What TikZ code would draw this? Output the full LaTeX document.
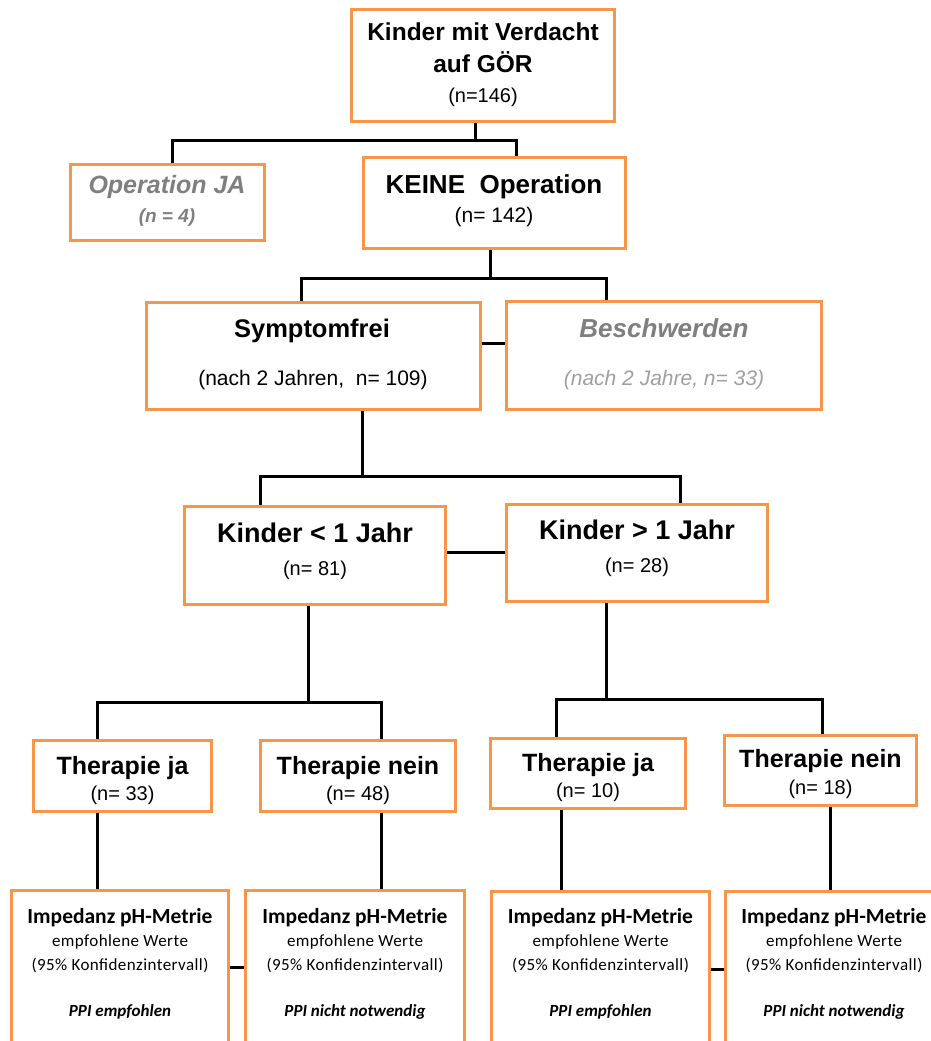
\documentclass[tikz,border=0pt]{standalone}
\usepackage{fontspec}
\setmainfont{Liberation Sans}
\newfontfamily\calfont{Carlito}
\newfontfamily\calfontsp[LetterSpace=2.5]{Carlito}
\definecolor{boxorange}{HTML}{F79646}
\definecolor{txtgrey}{HTML}{7F7F7F}
\definecolor{subgrey}{HTML}{A0A0A0}
\tikzset{
  obox/.style={draw=boxorange, line width=3pt, fill=white, inner sep=0pt, rectangle},
  conn/.style={draw=black, line width=3pt},
  tx/.style={anchor=base, inner sep=0pt},
}
\newcommand\mkbox[5]{\node[obox, minimum width={#4-#2-3}, minimum height={#5-#3-3}] (#1) at ({(#2+#4)/2},{(#3+#5)/2}) {};}
\newcommand\fs[1]{\fontsize{#1}{#1}\selectfont}
\begin{document}
\begin{tikzpicture}[x=1pt,y=-1pt]
\path[use as bounding box, clip] (0,0) rectangle (931,1041);
% boxes
\mkbox{top}{350}{8}{616}{123}
\mkbox{opja}{69}{163}{266}{242}
\mkbox{keine}{362}{156}{627}{250}
\mkbox{symf}{145}{301}{482}{411}
\mkbox{besch}{505}{300}{823}{411}
\mkbox{klein}{183}{505}{447}{606}
\mkbox{kgross}{505}{503}{769}{603}
\mkbox{thjaL}{32}{739}{213}{813}
\mkbox{thneinL}{259}{739}{457}{813}
\mkbox{thjaR}{489}{737}{687}{810}
\mkbox{thneinR}{723}{734}{918}{807}
\mkbox{impA}{10}{889}{230}{1070}
\mkbox{impB}{244}{889}{466}{1070}
\mkbox{impC}{490}{890}{711}{1070}
\mkbox{impD}{724}{890}{944}{1070}
% junction coordinates
\coordinate (a0) at (475,140); \coordinate (aL) at (172,140); \coordinate (aR) at (516,140);
\coordinate (b0) at (490,278); \coordinate (bL) at (301,278); \coordinate (bR) at (606,278);
\coordinate (c0) at (362,476); \coordinate (cL) at (260,476); \coordinate (cR) at (680,476);
\coordinate (d0) at (308,702); \coordinate (dL) at (97,702);  \coordinate (dR) at (381,702);
\coordinate (e0) at (606,699); \coordinate (eL) at (556,699); \coordinate (eR) at (822,699);
\coordinate (f1) at (561,850); \coordinate (f2) at (830,850);
\coordinate (s1) at (0,343); \coordinate (s2) at (0,552); \coordinate (s3) at (0,967); \coordinate (s4) at (0,969);
% connectors
\draw[conn] (top.south -| a0) -- (a0);
\draw[conn] (opja.north -| aL) |- (aR) -- (keine.north -| aR);
\draw[conn] (keine.south -| b0) -- (b0);
\draw[conn] (symf.north -| bL) |- (bR) -- (besch.north -| bR);
\draw[conn] (symf.south -| c0) -- (c0);
\draw[conn] (klein.north -| cL) |- (cR) -- (kgross.north -| cR);
\draw[conn] (klein.south -| d0) -- (d0);
\draw[conn] (thjaL.north -| dL) |- (dR) -- (thneinL.north -| dR);
\draw[conn] (kgross.south -| e0) -- (e0);
\draw[conn] (thjaR.north -| eL) |- (eR) -- (thneinR.north -| eR);
\draw[conn] (thjaL.south -| dL) -- (impA.north -| dL);
\draw[conn] (thneinL.south -| dR) -- (impB.north -| dR);
\draw[conn] (thjaR.south -| f1) -- (impC.north -| f1);
\draw[conn] (thneinR.south -| f2) -- (impD.north -| f2);
\draw[conn] (symf.east |- s1) -- (besch.west |- s1);
\draw[conn] (klein.east |- s2) -- (kgross.west |- s2);
\draw[conn] (impA.east |- s3) -- (impB.west |- s3);
\draw[conn] (impC.east |- s4) -- (impD.west |- s4);
% texts
\node[tx, font=\fs{24.5}\bfseries] (t1a) at (483,41) {Kinder mit Verdacht};
\node[tx, font=\fs{24.5}\bfseries] (t1b) at (483,72.5) {auf GÖR};
\node[tx, font=\fs{20}] (t1c) at (483,102) {(n=146)};
\node[tx, font=\fs{25}\bfseries\itshape, text=txtgrey] (t2a) at (167,193) {Operation JA};
\node[tx, font=\fs{19}\bfseries\itshape, text=txtgrey] (t2b) at (167,222) {(n = 4)};
\node[tx, font=\fs{26}\bfseries] (t3a) at (494,193) {KEINE\ \ Operation};
\node[tx, font=\fs{21}] (t3b) at (494,222) {(n= 142)};
\node[tx, font=\fs{25.5}\bfseries] (t4a) at (312,337) {Symptomfrei};
\node[tx, font=\fs{21}] (t4b) at (313,385) {(nach 2 Jahren,\ \ n= 109)};
\node[tx, font=\fs{26}\bfseries\itshape, text=txtgrey] (t5a) at (664,337) {Beschwerden};
\node[tx, font=\fs{21}\itshape, text=subgrey] (t5b) at (664,385) {(nach 2 Jahre, n= 33)};
\node[tx, font=\fs{27}\bfseries] (t6a) at (315,542) {Kinder < 1 Jahr};
\node[tx, font=\fs{20}] (t6b) at (315,575) {(n= 81)};
\node[tx, font=\fs{27}\bfseries] (t7a) at (637,539) {Kinder > 1 Jahr};
\node[tx, font=\fs{20}] (t7b) at (637,572) {(n= 28)};
\node[tx, font=\fs{25}\bfseries] (t8a) at (122.5,774) {Therapie ja};
\node[tx, font=\fs{20}] (t8b) at (122.5,800) {(n= 33)};
\node[tx, font=\fs{25}\bfseries] (t9a) at (358,774) {Therapie nein};
\node[tx, font=\fs{20}] (t9b) at (358,800) {(n= 48)};
\node[tx, font=\fs{25}\bfseries] (t10a) at (588,771) {Therapie ja};
\node[tx, font=\fs{20}] (t10b) at (588,797) {(n= 10)};
\node[tx, font=\fs{25}\bfseries] (t11a) at (820.5,767) {Therapie nein};
\node[tx, font=\fs{20}] (t11b) at (820.5,794) {(n= 18)};
\foreach \nm/\cx/\pp in {A/120/PPI empfohlen, B/355/PPI nicht notwendig, C/600.5/PPI empfohlen, D/834/PPI nicht notwendig}{
  \node[tx, font=\calfont\fs{21.5}\bfseries] (i\nm a) at (\cx,923) {Impedanz pH-Metrie};
  \node[tx, font=\calfontsp\fs{17}] (i\nm b) at (\cx,946) {empfohlene Werte};
  \node[tx, font=\calfontsp\fs{17}] (i\nm c) at (\cx,970) {(95\% Konfidenzintervall)};
  \node[tx, font=\calfont\fs{17}\bfseries\itshape] (i\nm d) at (\cx,1016) {\pp};
}
\end{tikzpicture}
\end{document}
